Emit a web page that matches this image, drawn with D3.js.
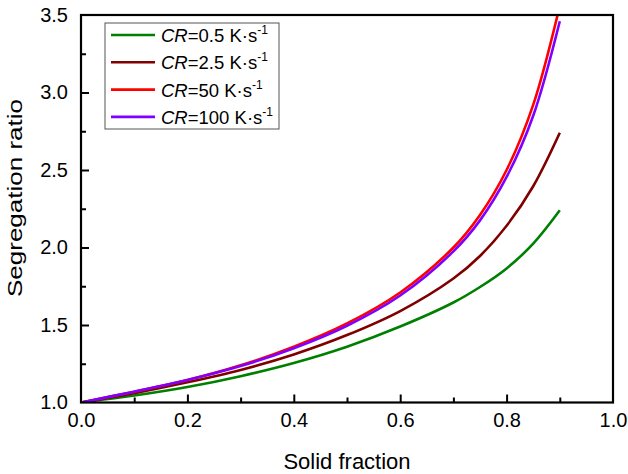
<!DOCTYPE html>
<html><head><meta charset="utf-8">
<script src="https://cdn.jsdelivr.net/npm/d3@7"></script>
<style>body{margin:0;background:#fff}svg{display:block}text{font-family:"Liberation Sans",Arial,sans-serif}</style>
</head><body>
<svg id="c" width="628" height="474"></svg>
<script>
const fs = [0, 0.1, 0.2, 0.3, 0.4, 0.5, 0.6, 0.7, 0.75, 0.8, 0.85, 0.9];
const cr05  = [1.0, 1.045, 1.10, 1.17, 1.255, 1.36, 1.49, 1.645, 1.745, 1.865, 2.025, 2.24];
const cr25  = [1.0, 1.06, 1.13, 1.21, 1.31, 1.435, 1.59, 1.80, 1.945, 2.14, 2.395, 2.74];
const cr50  = [1.0, 1.07, 1.145, 1.24, 1.36, 1.51, 1.71, 2.0, 2.21, 2.5, 2.92, 3.56];
const cr100 = [1.0, 1.07, 1.145, 1.235, 1.35, 1.495, 1.69, 1.975, 2.175, 2.455, 2.85, 3.46];
const seriesNames = ["0.5", "2.5", "50", "100"];
const seriesValues = [cr05, cr25, cr50, cr100];
const colors = ["#008000", "#800000", "#ff0000", "#8000ff"];
const xTicks = [0, 0.2, 0.4, 0.6, 0.8, 1.0];
const yTicks = [1.0, 1.5, 2.0, 2.5, 3.0, 3.5];

const svg = d3.select("#c");
const L = 81, R = 613, T = 15, B = 402.5;
const x = d3.scaleLinear().domain([0, 1]).range([L, R]);
const y = d3.scaleLinear().domain([1, 3.5]).range([B, T]);

svg.append("defs").append("clipPath").attr("id", "clip")
  .append("rect").attr("x", L).attr("y", T).attr("width", R - L).attr("height", B - T);

const line = d3.line().x((d, i) => x(fs[i])).y(d => y(d)).curve(d3.curveCatmullRom.alpha(0.5));
const g = svg.append("g").attr("clip-path", "url(#clip)");
seriesValues.forEach((vals, k) => {
  g.append("path").attr("d", line(vals)).attr("fill", "none")
    .attr("stroke", colors[k]).attr("stroke-width", 2.6);
});

// axes
const isMajorX = d => xTicks.some(t => Math.abs(t - d) < 1e-9);
const isMajorY = d => yTicks.some(t => Math.abs(t - d) < 1e-9);
const xAx = svg.append("g").attr("transform", `translate(0,${B})`)
  .call(d3.axisBottom(x).tickValues(d3.range(0, 1.0001, 0.1)).tickSize(-8).tickPadding(10)
    .tickFormat(d => isMajorX(d) ? d3.format(".1f")(d) : ""));
xAx.selectAll(".tick line").attr("y2", d => isMajorX(d) ? -8 : -5);
const yAx = svg.append("g").attr("transform", `translate(${L},0)`)
  .call(d3.axisLeft(y).tickValues(d3.range(1, 3.5001, 0.25)).tickSize(-8).tickPadding(13)
    .tickFormat(d => isMajorY(d) ? d3.format(".1f")(d) : ""));
yAx.selectAll(".tick line").attr("x2", d => isMajorY(d) ? 8 : 5);
[xAx, yAx].forEach(a => {
  a.select(".domain").remove();
  a.selectAll(".tick line").attr("stroke", "#000").attr("stroke-width", 2);
  a.selectAll(".tick text").attr("font-size", 20).attr("fill", "#000")
    .attr("font-family", '"Liberation Sans",Arial,sans-serif');
});
xAx.selectAll(".tick").filter(d => Math.abs(d) < 1e-9 || Math.abs(d - 1) < 1e-9).select("line").remove();
yAx.selectAll(".tick").filter(d => Math.abs(d - 1) < 1e-9 || Math.abs(d - 3.5) < 1e-9).select("line").remove();

svg.append("rect").attr("x", L).attr("y", T).attr("width", R - L).attr("height", B - T)
  .attr("fill", "none").attr("stroke", "#000").attr("stroke-width", 2.2);

svg.append("text").attr("x", (L + R) / 2).attr("y", 469).attr("text-anchor", "middle")
  .attr("font-size", 22).text("Solid fraction");
svg.append("text").attr("transform", `translate(22,${198}) rotate(-90)`)
  .attr("text-anchor", "middle").attr("font-size", 21)
  .attr("textLength", 198).attr("lengthAdjust", "spacingAndGlyphs").text("Segregation ratio");

// legend
const lg = svg.append("g");
lg.append("rect").attr("x", 105).attr("y", 23).attr("width", 174).attr("height", 106)
  .attr("fill", "#fff").attr("stroke", "#555").attr("stroke-width", 1);
seriesNames.forEach((n, k) => {
  const yy = 35 + k * 27.3;
  lg.append("line").attr("x1", 111).attr("x2", 155).attr("y1", yy).attr("y2", yy)
    .attr("stroke", colors[k]).attr("stroke-width", 2.6);
  const t = lg.append("text").attr("x", 161).attr("y", yy + 7).attr("font-size", 18.5);
  t.append("tspan").attr("font-style", "italic").text("CR");
  t.append("tspan").text("=" + n + " K\u00b7s");
  t.append("tspan").attr("font-size", 12).attr("dy", -8).text("-1");
});
</script>
</body></html>
